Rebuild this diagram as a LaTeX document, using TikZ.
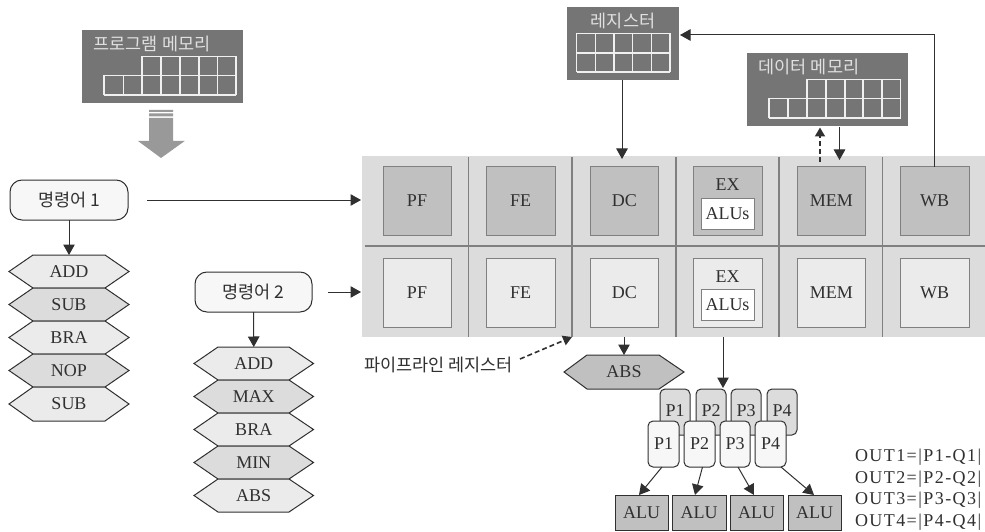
\documentclass[tikz,border=0pt]{standalone}
\usepackage{fontspec}
\setmainfont{Liberation Serif}
\newfontfamily\krfont{Noto Sans CJK KR}
\newfontfamily\outfont[LetterSpace=8]{Liberation Serif}
\usetikzlibrary{arrows.meta}
\definecolor{ink}{HTML}{303030}
\definecolor{memgray}{HTML}{757575}
\definecolor{panelgray}{HTML}{DCDCDC}
\definecolor{darkcell}{HTML}{C0C0C0}
\definecolor{lightcell}{HTML}{EBEBEB}
\definecolor{edgegray}{HTML}{808080}
\definecolor{pale}{HTML}{F7F7F7}
\tikzset{
  lab/.style={text=ink,font=\fontsize{18}{20}\selectfont,inner sep=0pt,outer sep=0pt},
  krlab/.style={text=ink,font=\krfont\fontsize{17.5}{20}\selectfont,inner sep=0pt,outer sep=0pt},
  memtitle/.style={text=black!12,font=\krfont\fontsize{17.5}{20}\selectfont,inner sep=0pt},
  membox/.style={fill=memgray,draw=none},
  memgrid/.style={draw=white!94!black,line width=1.2pt},
  cellD/.style={lab,fill=darkcell,draw=edgegray,line width=1pt},
  cellL/.style={lab,fill=lightcell,draw=edgegray,line width=1pt},
  alus/.style={lab,fill=white,draw=edgegray,line width=1pt},
  instr/.style={krlab,fill=pale,draw=ink,line width=1pt,rounded corners=12pt},
  pback/.style={lab,fill=panelgray,draw=ink,line width=1pt,rounded corners=5pt},
  pfront/.style={lab,fill=pale,draw=ink,line width=1pt,rounded corners=5pt},
  alubox/.style={lab,fill=darkcell,draw=ink,line width=1pt},
  flow/.style={draw=ink,line width=1pt,-{Triangle[length=10.5pt,width=11.5pt]}},
  flowd/.style={draw=ink,line width=1.6pt,dash pattern=on 5pt off 3pt,-{Triangle[length=9pt,width=10pt]}},
  divider/.style={draw=edgegray,line width=1.3pt}
}
\newcommand\rct[7]{%
  \pgfmathsetmacro\rw{#4-#2}\pgfmathsetmacro\rh{#5-#3}%
  \node[#6,minimum width=\rw pt,minimum height=\rh pt,inner sep=0pt,outer sep=0pt] (#1) at ({(#2+#4)/2},{(#3+#5)/2}) {#7};}
% name, x tip L, x flat L, x flat R, x tip R, y top, y bottom, fill, text
\newcommand\hexa[9]{%
  \fill[#8] (#2,{(#6+#7)/2}) -- (#3,#6) -- (#4,#6) -- (#5,{(#6+#7)/2}) -- (#4,#7) -- (#3,#7) -- cycle;
  \draw[ink,line width=1pt] (#2,{(#6+#7)/2}) -- (#3,#6) -- (#4,#6) -- (#5,{(#6+#7)/2}) -- (#4,#7) -- (#3,#7) -- cycle;
  \pgfmathsetmacro\rw{#5-#2}\pgfmathsetmacro\rh{#7-#6}%
  \node[lab,minimum width=\rw pt,minimum height=\rh pt] (#1) at ({(#2+#5)/2},{(#6+#7)/2}) {#9};}
\begin{document}
\begin{tikzpicture}[x=1pt,y=-1pt]
\useasboundingbox (0,0) rectangle (985,532);
\fill[white] (0,0) rectangle (985,532);

% program memory
\rct{pmem}{82}{30}{243}{103}{membox}{}
\node[memtitle] (pmemt) at (152,44) {프로그램 메모리};
\foreach \x in {142,161,180,199,217.5,236} \draw[memgrid] (\x,56.5) -- (\x,95);
\foreach \x in {104,123.5} \draw[memgrid] (\x,75.5) -- (\x,95);
\draw[memgrid] (142,56.5) -- (236,56.5) (104,75.5) -- (236,75.5) (104,95) -- (236,95);

% block arrow
\fill[black!40] (149,110) rectangle (173,112) (149,113.5) rectangle (173,116.5);
\fill[black!40] (149,118) -- (173,118) -- (173,141) -- (184.7,141) -- (161,158) -- (138,141) -- (149,141) -- cycle;

% pipeline panel
\rct{panel}{362}{156}{985}{337}{fill=panelgray}{}
\foreach \x in {468.7,572,676,779,882.7} \draw[divider] (\x,157) -- (\x,337);
\draw[divider] (365,246) -- (985,246);

\rct{pfa}{383}{166.5}{451}{235}{cellD}{PF}
\rct{fea}{486}{166.5}{555}{235}{cellD}{FE}
\rct{dca}{590}{166.5}{658.5}{235}{cellD}{DC}
\rct{exa}{693}{166.5}{762}{235}{cellD}{}
\node[lab] (exat) at (727.5,185) {EX};
\rct{alusa}{701}{198}{754}{229}{alus}{ALUs}
\rct{mema}{797}{166.5}{865.5}{235}{cellD}{MEM}
\rct{wba}{900}{166.5}{969}{235}{cellD}{WB}

\rct{pfb}{383}{258.5}{451}{327}{cellL}{PF}
\rct{feb}{486}{258.5}{555}{327}{cellL}{FE}
\rct{dcb}{590}{258.5}{658.5}{327}{cellL}{DC}
\rct{exb}{693}{258.5}{762}{327}{cellL}{}
\node[lab] (exbt) at (727.5,277) {EX};
\rct{alusb}{701}{289.5}{754}{320.5}{alus}{ALUs}
\rct{memb}{797}{258.5}{865.5}{327}{cellL}{MEM}
\rct{wbb}{900}{258.5}{969}{327}{cellL}{WB}

% register
\rct{reg}{567}{7}{679}{80}{membox}{}
\node[memtitle] (regt) at (623,21) {레지스터};
\foreach \x in {576.5,595.2,613.9,632.6,651.3,670} \draw[memgrid] (\x,33.5) -- (\x,72);
\draw[memgrid] (576.5,33.5) -- (670,33.5) (576.5,53) -- (670,53) (576.5,72) -- (670,72);

% data memory
\rct{dmem}{747}{53}{908}{126}{membox}{}
\node[memtitle] (dmemt) at (809,67) {데이터 메모리};
\foreach \x in {807,826,845,863,882,900.5} \draw[memgrid] (\x,79.5) -- (\x,118);
\foreach \x in {769,788} \draw[memgrid] (\x,98.5) -- (\x,118);
\draw[memgrid] (807,79.5) -- (900.5,79.5) (769,98.5) -- (900.5,98.5) (769,118) -- (900.5,118);

% instruction 1
\rct{insa}{10}{180}{128}{220}{instr}{명령어 1}
\hexa{ha}{9}{33}{105}{129}{255}{288}{lightcell}{ADD}
\hexa{hb}{9}{33}{105}{129}{288}{321}{panelgray}{SUB}
\hexa{hc}{9}{33}{105}{129}{321}{354}{lightcell}{BRA}
\hexa{hd}{9}{33}{105}{129}{354}{387}{panelgray}{NOP}
\hexa{he}{9}{33}{105}{129}{387}{421}{lightcell}{SUB}

% instruction 2
\rct{insb}{195}{272}{312}{312}{instr}{명령어 2}
\hexa{ka}{194}{218}{289}{313.5}{347}{380}{lightcell}{ADD}
\hexa{kb}{194}{218}{289}{313.5}{380}{413}{panelgray}{MAX}
\hexa{kc}{194}{218}{289}{313.5}{413}{446}{lightcell}{BRA}
\hexa{kd}{194}{218}{289}{313.5}{446}{479}{panelgray}{MIN}
\hexa{ke}{194}{218}{289}{313.5}{479}{512}{lightcell}{ABS}

% ABS hexagon and P registers
\hexa{absn}{564}{587}{659}{684}{355}{389}{darkcell}{ABS}
\rct{pb1}{660}{389}{690}{435}{pback}{}
\rct{pb2}{696}{389}{726}{435}{pback}{}
\rct{pb3}{731}{389}{761}{435}{pback}{}
\rct{pb4}{767}{389}{797}{435}{pback}{}
\node[lab] (pbt1) at (675,411) {P1};
\node[lab] (pbt2) at (711,411) {P2};
\node[lab] (pbt3) at (746,411) {P3};
\node[lab] (pbt4) at (782,411) {P4};
\rct{pf1}{648}{421}{679}{467}{pfront}{P1}
\rct{pf2}{684}{421}{715}{467}{pfront}{P2}
\rct{pf3}{720}{421}{750}{467}{pfront}{P3}
\rct{pf4}{755}{421}{786}{467}{pfront}{P4}
\rct{alu1}{615}{495}{668}{530}{alubox}{ALU}
\rct{alu2}{672}{495}{726}{530}{alubox}{ALU}
\rct{alu3}{730}{495}{783}{530}{alubox}{ALU}
\rct{alu4}{788}{495}{841}{530}{alubox}{ALU}

% texts
\node[krlab,anchor=west] (piper) at (364,365) {파이프라인 레지스터};
\node[lab,anchor=west,font=\outfont\fontsize{18}{20}\selectfont] (o1) at (855,457) {OUT1=|P1-Q1|};
\node[lab,anchor=west,font=\outfont\fontsize{18}{20}\selectfont] (o2) at (855,479) {OUT2=|P2-Q2|};
\node[lab,anchor=west,font=\outfont\fontsize{18}{20}\selectfont] (o3) at (855,500.5) {OUT3=|P3-Q3|};
\node[lab,anchor=west,font=\outfont\fontsize{18}{20}\selectfont] (o4) at (855,522) {OUT4=|P4-Q4|};

% connector end points
\coordinate (c1) at (147,200);
\coordinate (c2) at (361,200);
\coordinate (c3) at (328,292);
\coordinate (c4) at (361,292);
\coordinate (c5) at (622,159);
\coordinate (c6) at (934,35);
\coordinate (c7) at (820,162);
\coordinate (c8) at (820,127.5);
\coordinate (c9) at (839.5,127);
\coordinate (c10) at (839.5,160);
\coordinate (c11) at (624,337);
\coordinate (c12) at (723,337);
\coordinate (c13) at (723,388);
\coordinate (c14) at (520,359);
\coordinate (c15) at (572,337);
\coordinate (c16) at (622,80);
\coordinate (c17) at (680,35);
\coordinate (c18) at (934,166.5);
\coordinate (a1s) at (662,467);
\coordinate (a1e) at (639,495);
\coordinate (a2s) at (702.5,467);
\coordinate (a2e) at (695,495);
\coordinate (a3s) at (738,467);
\coordinate (a3e) at (754,495);
\coordinate (a4s) at (781,467);
\coordinate (a4e) at (814,495);

% connectors
\draw[flow] (c1) -- (c2);
\draw[flow] (c3) -- (c4);
\draw[flow] (insa.south) -- (ha.north);
\draw[flow] (insb.south) -- (ka.north);
\draw[flow] (c16) -- (c5);
\draw[flow] (c18) -- (c6) -- (c17);
\draw[flowd] (c7) -- (c8);
\draw[flow] (c9) -- (c10);
\draw[flow] (c11) -- (absn.north);
\draw[flow] (c12) -- (c13);
\draw[flowd] (c14) -- (c15);
\draw[flow] (a1s) -- (a1e);
\draw[flow] (a2s) -- (a2e);
\draw[flow] (a3s) -- (a3e);
\draw[flow] (a4s) -- (a4e);
\end{tikzpicture}
\end{document}
